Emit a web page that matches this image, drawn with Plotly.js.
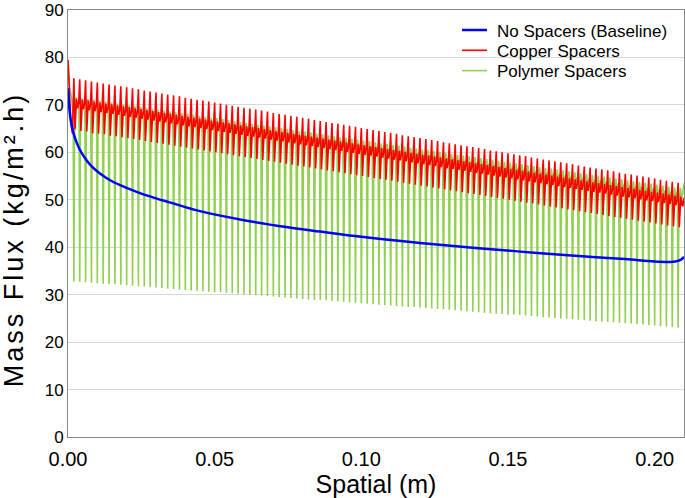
<!DOCTYPE html>
<html><head><meta charset="utf-8">
<script src="https://cdn.plot.ly/plotly-3.0.1.min.js"></script>
<style>html,body{margin:0;padding:0;background:#fff}#chart{width:685px;height:498px}
.ytitle{letter-spacing:3px}</style>
</head><body><div id="chart"></div>
<script>
// ---- data ----
const spacerX = [0.002,0.004,0.006,0.008,0.010,0.012,0.014,0.016,0.018,0.020,0.022,0.024,0.026,0.028,0.030,0.032,0.034,0.036,0.038,0.040,0.042,0.044,0.046,0.048,0.050,0.052,0.054,0.056,0.058,0.060,0.062,0.064,0.066,0.068,0.070,0.072,0.074,0.076,0.078,0.080,0.082,0.084,0.086,0.088,0.090,0.092,0.094,0.096,0.098,0.100,0.102,0.104,0.106,0.108,0.110,0.112,0.114,0.116,0.118,0.120,0.122,0.124,0.126,0.128,0.130,0.132,0.134,0.136,0.138,0.140,0.142,0.144,0.146,0.148,0.150,0.152,0.154,0.156,0.158,0.160,0.162,0.164,0.166,0.168,0.170,0.172,0.174,0.176,0.178,0.180,0.182,0.184,0.186,0.188,0.190,0.192,0.194,0.196,0.198,0.200,0.202,0.204,0.206,0.208];

const copperPeak = [75.6,75.4,75.2,74.9,74.7,74.5,74.3,74.1,73.9,73.7,73.5,73.3,73.0,72.8,72.6,72.4,72.2,72.0,71.8,71.5,71.3,71.1,70.9,70.7,70.5,70.3,70.0,69.8,69.6,69.4,69.2,69.0,68.8,68.6,68.3,68.1,67.9,67.7,67.5,67.3,67.1,66.8,66.6,66.4,66.2,66.0,65.8,65.6,65.4,65.1,64.9,64.7,64.5,64.3,64.1,63.9,63.6,63.4,63.2,63.0,62.8,62.6,62.4,62.1,61.9,61.7,61.5,61.3,61.1,60.9,60.7,60.4,60.2,60.0,59.8,59.6,59.4,59.2,58.9,58.7,58.5,58.3,58.1,57.9,57.7,57.5,57.2,57.0,56.8,56.6,56.4,56.2,56.0,55.7,55.5,55.3,55.1,54.9,54.7,54.5,54.2,54.0,53.8,53.6];

const copperTrough = [64.8,64.5,64.4,64.0,63.9,63.8,63.5,63.4,63.2,63.0,62.8,62.6,62.4,62.2,62.0,61.8,61.6,61.4,61.2,61.0,60.8,60.6,60.4,60.2,60.0,59.8,59.6,59.4,59.2,59.0,58.8,58.6,58.4,58.2,58.0,57.8,57.6,57.4,57.2,57.0,56.8,56.6,56.4,56.2,56.0,55.8,55.6,55.4,55.2,55.0,54.8,54.6,54.4,54.2,54.0,53.8,53.6,53.4,53.2,53.0,52.8,52.6,52.4,52.2,52.0,51.8,51.6,51.4,51.2,51.0,50.8,50.6,50.4,50.2,50.0,49.8,49.6,49.4,49.2,49.0,48.8,48.6,48.4,48.2,48.0,47.8,47.6,47.4,47.2,47.0,46.8,46.6,46.4,46.2,46.0,45.8,45.6,45.4,45.2,45.0,44.8,44.6,44.4,44.2];

const copperBase = [70.1,69.9,69.7,69.5,69.3,69.1,68.9,68.7,68.5,68.3,68.1,67.9,67.7,67.5,67.3,67.1,66.9,66.7,66.5,66.3,66.1,65.9,65.7,65.5,65.3,65.1,64.9,64.7,64.5,64.3,64.1,63.9,63.7,63.5,63.3,63.1,62.9,62.7,62.5,62.3,62.1,61.9,61.7,61.5,61.3,61.1,60.9,60.7,60.5,60.3,60.1,59.9,59.7,59.5,59.3,59.1,58.9,58.7,58.5,58.3,58.1,57.9,57.7,57.5,57.3,57.1,56.9,56.7,56.5,56.3,56.1,55.9,55.7,55.5,55.3,55.1,54.9,54.7,54.5,54.3,54.1,53.9,53.7,53.5,53.3,53.1,52.9,52.7,52.5,52.3,52.1,51.9,51.7,51.5,51.3,51.1,50.9,50.7,50.5,50.3,50.1,49.9,49.7,49.5];

const polymerTop = [71.3,71.1,70.9,70.8,70.6,70.4,70.2,70.0,69.8,69.6,69.5,69.3,69.1,68.9,68.7,68.5,68.3,68.2,68.0,67.8,67.6,67.4,67.2,67.0,66.9,66.7,66.5,66.3,66.1,65.9,65.7,65.5,65.4,65.2,65.0,64.8,64.6,64.4,64.2,64.1,63.9,63.7,63.5,63.3,63.1,62.9,62.8,62.6,62.4,62.2,62.0,61.8,61.6,61.5,61.3,61.1,60.9,60.7,60.5,60.3,60.2,60.0,59.8,59.6,59.4,59.2,59.0,58.9,58.7,58.5,58.3,58.1,57.9,57.7,57.6,57.4,57.2,57.0,56.8,56.6,56.4,56.3,56.1,55.9,55.7,55.5,55.3,55.1,54.9,54.8,54.6,54.4,54.2,54.0,53.8,53.6,53.5,53.3,53.1,52.9,52.7,52.5,52.3,52.2];

const polymerBottom = [32.8,32.7,32.6,32.5,32.4,32.3,32.2,32.2,32.1,32.0,31.9,31.8,31.7,31.6,31.5,31.4,31.3,31.2,31.1,31.0,30.9,30.8,30.7,30.6,30.5,30.5,30.4,30.3,30.2,30.1,30.0,29.9,29.8,29.7,29.6,29.5,29.4,29.3,29.2,29.1,29.0,28.9,28.9,28.8,28.7,28.6,28.5,28.4,28.3,28.2,28.1,28.0,27.9,27.8,27.7,27.6,27.5,27.4,27.4,27.3,27.2,27.1,27.0,26.9,26.8,26.7,26.6,26.5,26.4,26.3,26.2,26.1,26.0,25.9,25.8,25.8,25.7,25.6,25.5,25.4,25.3,25.2,25.1,25.0,24.9,24.8,24.7,24.6,24.5,24.4,24.3,24.3,24.2,24.1,24.0,23.9,23.8,23.7,23.6,23.5,23.4,23.3,23.2,23.1];

// entrance / exit segments
const copperHeadX = [0, 0.0004, 0.0010, 0.0015];
const copperHeadY = [79.5, 73.0, 66.0, 64.0];
const copperTailX = [0.2096, 0.2100];
const copperTailY = [48.6, 50.4];
const polymerHeadX = [0, 0.0005, 0.0012];
const polymerHeadY = [79.5, 74.0, 71.5];
const polymerTailX = [0.2096, 0.2100];
const polymerTailY = [51.8, 53.5];

const baselineX = [0,0.0005,0.001,0.002,0.003,0.004,0.006,0.008,0.011,0.015,0.02,0.025,0.03,0.035,0.045,0.06,0.075,0.086,0.1,0.12,0.14,0.16,0.18,0.19,0.2,0.205,0.207,0.209,0.21];
const baselineY = [73.5,69.0,66.5,63.8,62.0,60.6,58.6,57.1,55.5,53.9,52.5,51.3,50.3,49.4,47.6,45.7,44.2,43.3,42.2,40.9,39.8,38.8,37.9,37.5,37.0,36.9,37.0,37.4,38.0];

const xTickVals = [0, 0.05, 0.10, 0.15, 0.20];
const xTickText = ['0.00','0.05','0.10','0.15','0.20'];
const yTickVals = [0,10,20,30,40,50,60,70,80,90];

// ---- build per-spacer waveforms from the read values ----
const pitch = spacerX[1] - spacerX[0];
function copperLine() {
  const x = copperHeadX.slice(), y = copperHeadY.slice();
  for (let i = 0; i < spacerX.length; i++) {
    const s = spacerX[i], b = copperBase[i];
    x.push(s, s + 0.2*pitch, s + 0.45*pitch, s + 0.62*pitch, s + 0.82*pitch);
    y.push(copperPeak[i], copperTrough[i], b + 1.2, b - 0.8, b + 0.3);
  }
  return {x: x.concat(copperTailX), y: y.concat(copperTailY)};
}
function polymerLine() {
  const x = polymerHeadX.slice(), y = polymerHeadY.slice();
  for (let i = 0; i < spacerX.length; i++) {
    const s = spacerX[i], t = polymerTop[i];
    x.push(s - 0.12*pitch, s, s + 0.12*pitch, s + 0.38*pitch, s + 0.6*pitch, s + 0.8*pitch);
    y.push(t - 3.5, polymerBottom[i], t - 4.5, t + 0.3, t - 2.0, t - 0.8);
  }
  return {x: x.concat(polymerTailX), y: y.concat(polymerTailY)};
}

const cu = copperLine(), po = polymerLine();
const traces = [
  {x: po.x, y: po.y, mode: 'lines', name: 'Polymer Spacers', legendrank: 3,
   line: {color: '#92D050', width: 1.6}},
  {x: cu.x, y: cu.y, mode: 'lines', name: 'Copper Spacers', legendrank: 2,
   line: {color: '#FF0000', width: 1.6}},
  {x: baselineX, y: baselineY, mode: 'lines', name: 'No Spacers (Baseline)', legendrank: 1,
   line: {color: '#0000FF', width: 2.5, shape: 'spline'}}
];

const font = 'Liberation Sans, Arial, sans-serif';
const layout = {
  width: 685, height: 498,
  margin: {l: 68, r: 1, t: 10, b: 61},
  paper_bgcolor: '#fff', plot_bgcolor: '#fff',
  font: {family: font, color: '#000'},
  showlegend: true,
  legend: {x: 0.985, xanchor: 'right', y: 0.985, yanchor: 'top',
           bgcolor: 'rgba(0,0,0,0)', font: {size: 17, family: font},
           tracegroupgap: 0, itemwidth: 30},
  xaxis: {range: [0, 0.21], tickvals: xTickVals, ticktext: xTickText,
          showgrid: false, zeroline: false, showline: true, linecolor: '#888', linewidth: 1,
          mirror: true, ticks: '', ticklabelstandoff: 4, tickfont: {size: 20, family: font},
          title: {text: 'Spatial (m)', font: {size: 25, family: font}, standoff: 6}},
  yaxis: {range: [0, 90], tickvals: yTickVals, showgrid: true, gridcolor: '#d9d9d9', gridwidth: 1,
          zeroline: false, showline: true, linecolor: '#888', linewidth: 1, mirror: true,
          ticks: '', tickfont: {size: 17, family: font},
          title: {text: 'Mass Flux (kg/m².h)', font: {size: 27, family: font}, standoff: 6}}
};
Plotly.newPlot('chart', traces, layout, {displayModeBar: false, staticPlot: true}).then(function (gd) {
  // y title placed like the reference (slightly lower and further left)
  const yt = gd.querySelector('.ytitle');
  if (yt) {
    const tx = parseFloat(yt.getAttribute('x')) - 7;
    const ty = parseFloat(yt.getAttribute('y')) + 16;
    yt.setAttribute('x', tx);
    yt.setAttribute('y', ty);
    yt.setAttribute('transform', 'rotate(-90,' + tx + ',' + ty + ')');
  }
  // compact legend rows like the reference (short lines, tight spacing)
  const leg = gd.querySelector('.legend');
  if (!leg) return;
  const sb = leg.querySelector('.scrollbox');
  if (sb) sb.removeAttribute('clip-path');
  const m = /translate\(\s*([-\d.]+)[ ,]+([-\d.]+)/.exec(leg.getAttribute('transform') || '');
  const lx = m ? parseFloat(m[1]) : 0, ly = m ? parseFloat(m[2]) : 0;
  const rows = [30, 50.3, 70.6];
  leg.querySelectorAll('.traces').forEach(function (g, i) {
    g.setAttribute('transform', 'translate(' + (462 - lx) + ',' + (rows[i] - ly) + ')');
    g.querySelectorAll('.legendlines path, .legendlines .js-line').forEach(function (p) {
      p.setAttribute('d', 'M0,0h25');
    });
    const t = g.querySelector('.legendtext');
    if (t) t.setAttribute('x', 35);
  });
});
</script>
</body></html>
